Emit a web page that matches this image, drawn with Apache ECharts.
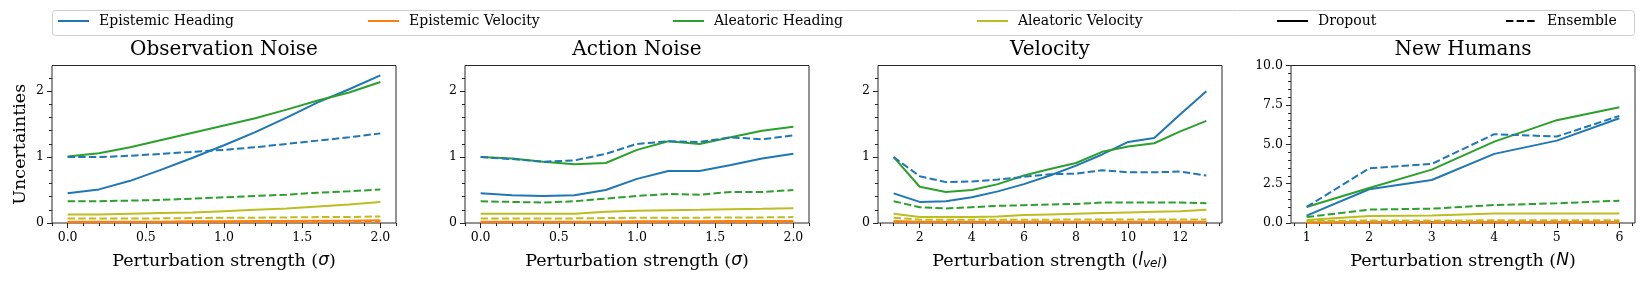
<!DOCTYPE html>
<html><head><meta charset="utf-8">
<script src="https://cdn.jsdelivr.net/npm/echarts@6/dist/echarts.min.js"></script>
<style>html,body{margin:0;padding:0;background:#fff}#c{width:1645px;height:281px}</style>
</head><body><div id="c"></div><script>
// ---------------- data ----------------
const legendNames = ['Epistemic Heading','Epistemic Velocity','Aleatoric Heading','Aleatoric Velocity','Dropout','Ensemble'];
const panelTitles = ['Observation Noise','Action Noise','Velocity','New Humans'];

// Observation noise
const obsX = [0.0,0.2,0.4,0.6,0.8,1.0,1.2,1.4,1.6,1.8,2.0];
const obsEpiHeadDropout  = [0.45,0.51,0.64,0.81,0.99,1.18,1.38,1.60,1.83,2.03,2.24];
const obsEpiVelDropout   = [0.02,0.02,0.02,0.02,0.025,0.025,0.03,0.03,0.035,0.035,0.04];
const obsAleHeadDropout  = [1.01,1.06,1.15,1.26,1.37,1.48,1.59,1.72,1.86,1.98,2.14];
const obsAleVelDropout   = [0.13,0.13,0.14,0.15,0.16,0.18,0.20,0.22,0.25,0.28,0.32];
const obsEpiHeadEnsemble = [1.00,1.00,1.02,1.05,1.08,1.11,1.15,1.20,1.25,1.30,1.36];
const obsEpiVelEnsemble  = [0.01,0.01,0.01,0.01,0.012,0.012,0.014,0.015,0.016,0.018,0.02];
const obsAleHeadEnsemble = [0.33,0.33,0.34,0.35,0.37,0.39,0.41,0.43,0.46,0.48,0.51];
const obsAleVelEnsemble  = [0.07,0.07,0.07,0.07,0.075,0.08,0.08,0.085,0.09,0.09,0.10];

// Action noise
const actX = [0.0,0.2,0.4,0.6,0.8,1.0,1.2,1.4,1.6,1.8,2.0];
const actEpiHeadDropout  = [0.45,0.42,0.41,0.42,0.50,0.67,0.79,0.79,0.88,0.98,1.05];
const actEpiVelDropout   = [0.02,0.02,0.02,0.02,0.02,0.025,0.025,0.025,0.03,0.03,0.03];
const actAleHeadDropout  = [1.00,0.98,0.93,0.89,0.91,1.11,1.24,1.20,1.30,1.40,1.46];
const actAleVelDropout   = [0.14,0.14,0.14,0.14,0.17,0.185,0.195,0.20,0.21,0.215,0.225];
const actEpiHeadEnsemble = [1.00,0.97,0.93,0.95,1.05,1.20,1.24,1.23,1.30,1.27,1.33];
const actEpiVelEnsemble  = [0.01,0.01,0.01,0.01,0.01,0.012,0.012,0.012,0.013,0.013,0.014];
const actAleHeadEnsemble = [0.33,0.32,0.31,0.33,0.37,0.41,0.44,0.43,0.47,0.47,0.50];
const actAleVelEnsemble  = [0.07,0.07,0.07,0.07,0.075,0.08,0.08,0.08,0.085,0.085,0.09];

// Velocity
const velX = [1,2,3,4,5,6,7,8,9,10,11,12,13];
const velEpiHeadDropout  = [0.45,0.32,0.33,0.39,0.48,0.59,0.72,0.87,1.04,1.23,1.29,1.65,2.00];
const velEpiVelDropout   = [0.03,0.02,0.02,0.02,0.02,0.02,0.02,0.02,0.02,0.02,0.02,0.02,0.02];
const velAleHeadDropout  = [1.00,0.55,0.47,0.50,0.59,0.72,0.82,0.91,1.08,1.16,1.21,1.39,1.55];
const velAleVelDropout   = [0.14,0.09,0.09,0.09,0.10,0.12,0.13,0.14,0.15,0.16,0.17,0.18,0.20];
const velEpiHeadEnsemble = [1.00,0.71,0.62,0.63,0.66,0.70,0.74,0.75,0.80,0.77,0.77,0.78,0.72];
const velEpiVelEnsemble  = [0.015,0.01,0.01,0.01,0.01,0.01,0.01,0.01,0.01,0.01,0.01,0.01,0.01];
const velAleHeadEnsemble = [0.33,0.24,0.22,0.24,0.26,0.27,0.28,0.29,0.31,0.31,0.31,0.31,0.30];
const velAleVelEnsemble  = [0.08,0.05,0.05,0.05,0.05,0.05,0.05,0.055,0.055,0.055,0.055,0.055,0.055];

// New humans
const humX = [1,2,3,4,5,6];
const humEpiHeadDropout  = [0.47,2.14,2.73,4.39,5.23,6.65];
const humEpiVelDropout   = [0.05,0.06,0.06,0.07,0.07,0.07];
const humAleHeadDropout  = [1.02,2.22,3.39,5.17,6.53,7.35];
const humAleVelDropout   = [0.19,0.44,0.47,0.61,0.61,0.61];
const humEpiHeadEnsemble = [1.02,3.47,3.75,5.64,5.49,6.80];
const humEpiVelEnsemble  = [0.02,0.03,0.03,0.03,0.03,0.03];
const humAleHeadEnsemble = [0.38,0.85,0.91,1.14,1.25,1.42];
const humAleVelEnsemble  = [0.12,0.16,0.16,0.17,0.17,0.17];

// tick labels
const sigmaXTicks = [0, 0.5, 1.0, 1.5, 2.0];
const velXTicks = [2, 4, 6, 8, 10, 12];
const humXTicks = [1, 2, 3, 4, 5, 6];
const sharedYTicks = [0, 1, 2];
const humYTicks = [0, 2.5, 5.0, 7.5, 10.0];

// ---------------- layout / style ----------------
const FONT = 'DejaVu Serif';
const COLORS = ['#1f77b4', '#ff7f0e', '#2ca02c', '#bcbd22'];
const DASH = [7.4, 3.2];
const gridLefts = [52, 465, 878, 1291];
const gridW = 344, gridTop = 65.5, gridH = 157.5;
const AX = '#262626';

function minorTicks(min, max, step, majors) {
  const out = [];
  const start = Math.ceil(min / step - 1e-9);
  for (let k = start; k * step <= max + 1e-9; k++) {
    const v = Math.round(k * step * 1000) / 1000;
    if (!majors.some(m => Math.abs(m - v) < 1e-6)) out.push(v);
  }
  return out;
}

const mathRich = {
  m: {fontFamily: 'DejaVu Sans', fontStyle: 'italic', fontSize: 17, color: '#000'},
  s: {fontFamily: 'DejaVu Sans', fontStyle: 'italic', fontSize: 12, color: '#000', verticalAlign: 'bottom', lineHeight: 9}
};

const panels = [
  {x: obsX, xMin: -0.1, xMax: 2.1, xTicks: sigmaXTicks, xStep: 0.1, xFmt: v => v.toFixed(1),
   yMax: 2.39, yTicks: sharedYTicks, yStep: 0.2, yFmt: v => String(v),
   xName: 'Perturbation strength ({m|σ})',
   drop: [obsEpiHeadDropout, obsEpiVelDropout, obsAleHeadDropout, obsAleVelDropout],
   ens: [obsEpiHeadEnsemble, obsEpiVelEnsemble, obsAleHeadEnsemble, obsAleVelEnsemble]},
  {x: actX, xMin: -0.1, xMax: 2.1, xTicks: sigmaXTicks, xStep: 0.1, xFmt: v => v.toFixed(1),
   yMax: 2.39, yTicks: sharedYTicks, yStep: 0.2, yFmt: v => String(v),
   xName: 'Perturbation strength ({m|σ})',
   drop: [actEpiHeadDropout, actEpiVelDropout, actAleHeadDropout, actAleVelDropout],
   ens: [actEpiHeadEnsemble, actEpiVelEnsemble, actAleHeadEnsemble, actAleVelEnsemble]},
  {x: velX, xMin: 0.4, xMax: 13.6, xTicks: velXTicks, xStep: 0.5, xFmt: v => String(v),
   yMax: 2.39, yTicks: sharedYTicks, yStep: 0.2, yFmt: v => String(v),
   xName: 'Perturbation strength ({m|l}{s|vel})',
   drop: [velEpiHeadDropout, velEpiVelDropout, velAleHeadDropout, velAleVelDropout],
   ens: [velEpiHeadEnsemble, velEpiVelEnsemble, velAleHeadEnsemble, velAleVelEnsemble]},
  {x: humX, xMin: 0.75, xMax: 6.25, xTicks: humXTicks, xStep: 0.2, xFmt: v => String(v),
   yMax: 10, yTicks: humYTicks, yStep: 0.5, yFmt: v => v.toFixed(1),
   xName: 'Perturbation strength ({m|N})',
   drop: [humEpiHeadDropout, humEpiVelDropout, humAleHeadDropout, humAleVelDropout],
   ens: [humEpiHeadEnsemble, humEpiVelEnsemble, humAleHeadEnsemble, humAleVelEnsemble]}
];

const grid = [], xAxis = [], yAxis = [], series = [], title = [];
panels.forEach((p, i) => {
  grid.push({left: gridLefts[i], top: gridTop, width: gridW, height: gridH,
    show: true, borderColor: AX, borderWidth: 1, backgroundColor: '#fff'});
  title.push({text: panelTitles[i], left: gridLefts[i] + gridW / 2, top: 40, textAlign: 'center', padding: 0,
    textStyle: {fontFamily: FONT, fontSize: 20, fontWeight: 'normal', color: '#000'}});
  // major x
  xAxis.push({type: 'value', gridIndex: i, min: p.xMin, max: p.xMax, position: 'bottom',
    axisLine: {show: false, onZero: false}, splitLine: {show: false},
    axisTick: {show: true, length: 5, customValues: p.xTicks, lineStyle: {color: AX, width: 1}},
    axisLabel: {customValues: p.xTicks, formatter: p.xFmt, fontFamily: FONT, fontSize: 12.5, color: '#000', margin: 8.5},
    name: p.xName, nameLocation: 'middle', nameGap: 29,
    nameTextStyle: {fontFamily: FONT, fontSize: 17.5, color: '#000', rich: mathRich}});
  // minor x
  xAxis.push({type: 'value', gridIndex: i, min: p.xMin, max: p.xMax, position: 'bottom', offset: 0,
    axisLine: {show: false, onZero: false}, splitLine: {show: false}, axisLabel: {show: false},
    axisTick: {show: true, length: 3, customValues: minorTicks(p.xMin, p.xMax, p.xStep, p.xTicks), lineStyle: {color: AX, width: 1}}});
  // major y
  const ya = {type: 'value', gridIndex: i, min: 0, max: p.yMax, position: 'left',
    axisLine: {show: false, onZero: false}, splitLine: {show: false},
    axisTick: {show: true, length: 5, customValues: p.yTicks, lineStyle: {color: AX, width: 1}},
    axisLabel: {customValues: p.yTicks, formatter: p.yFmt, fontFamily: FONT, fontSize: 12.5, color: '#000', margin: 8}};
  if (i === 0) {
    Object.assign(ya, {name: 'Uncertainties', nameLocation: 'middle', nameRotate: 90, nameGap: 23,
      nameTextStyle: {fontFamily: FONT, fontSize: 17.5, color: '#000'}});
  }
  yAxis.push(ya);
  // minor y
  yAxis.push({type: 'value', gridIndex: i, min: 0, max: p.yMax, position: 'left', offset: 0,
    axisLine: {show: false, onZero: false}, splitLine: {show: false}, axisLabel: {show: false},
    axisTick: {show: true, length: 3, customValues: minorTicks(0, p.yMax, p.yStep, p.yTicks), lineStyle: {color: AX, width: 1}}});

  [['drop', 'solid'], ['ens', DASH]].forEach(([key, type]) => {
    p[key].forEach((vals, k) => {
      series.push({type: 'line', name: legendNames[k], xAxisIndex: 2 * i, yAxisIndex: 2 * i,
        data: p.x.map((xv, j) => [xv, vals[j]]),
        symbol: 'none', color: COLORS[k], silent: true, animation: false,
        lineStyle: {color: COLORS[k], width: 2, type: type}});
    });
  });
});
// legend-only entries for line style
series.push({type: 'line', name: 'Dropout', xAxisIndex: 0, yAxisIndex: 0, data: [], symbol: 'none', color: '#000',
  lineStyle: {color: '#000', width: 2, type: 'solid'}});
series.push({type: 'line', name: 'Ensemble', xAxisIndex: 0, yAxisIndex: 0, data: [], symbol: 'none', color: '#000',
  lineStyle: {color: '#000', width: 2, type: DASH}});

const legendLefts = [57, 367, 672, 976, 1276, 1505];
const legend = legendNames.map((n, i) => ({
  left: legendLefts[i], top: 14, padding: 0, itemWidth: 31, itemHeight: 12, selectedMode: false, z: 10,
  itemStyle: {opacity: 0},
  data: [n], textStyle: {fontFamily: FONT, fontSize: 14, color: '#000', padding: [0, 0, 0, 5]}
}));

const chart = echarts.init(document.getElementById('c'), null, {renderer: 'canvas'});
chart.setOption({
  animation: false,
  backgroundColor: '#fff',
  title, grid, xAxis, yAxis, series, legend,
  graphic: [{type: 'rect', z: 1, silent: true,
    shape: {x: 52.5, y: 10.5, width: 1582, height: 25, r: 3},
    style: {fill: '#fff', stroke: '#cfcfcf', lineWidth: 1}}]
});
</script></body></html>
